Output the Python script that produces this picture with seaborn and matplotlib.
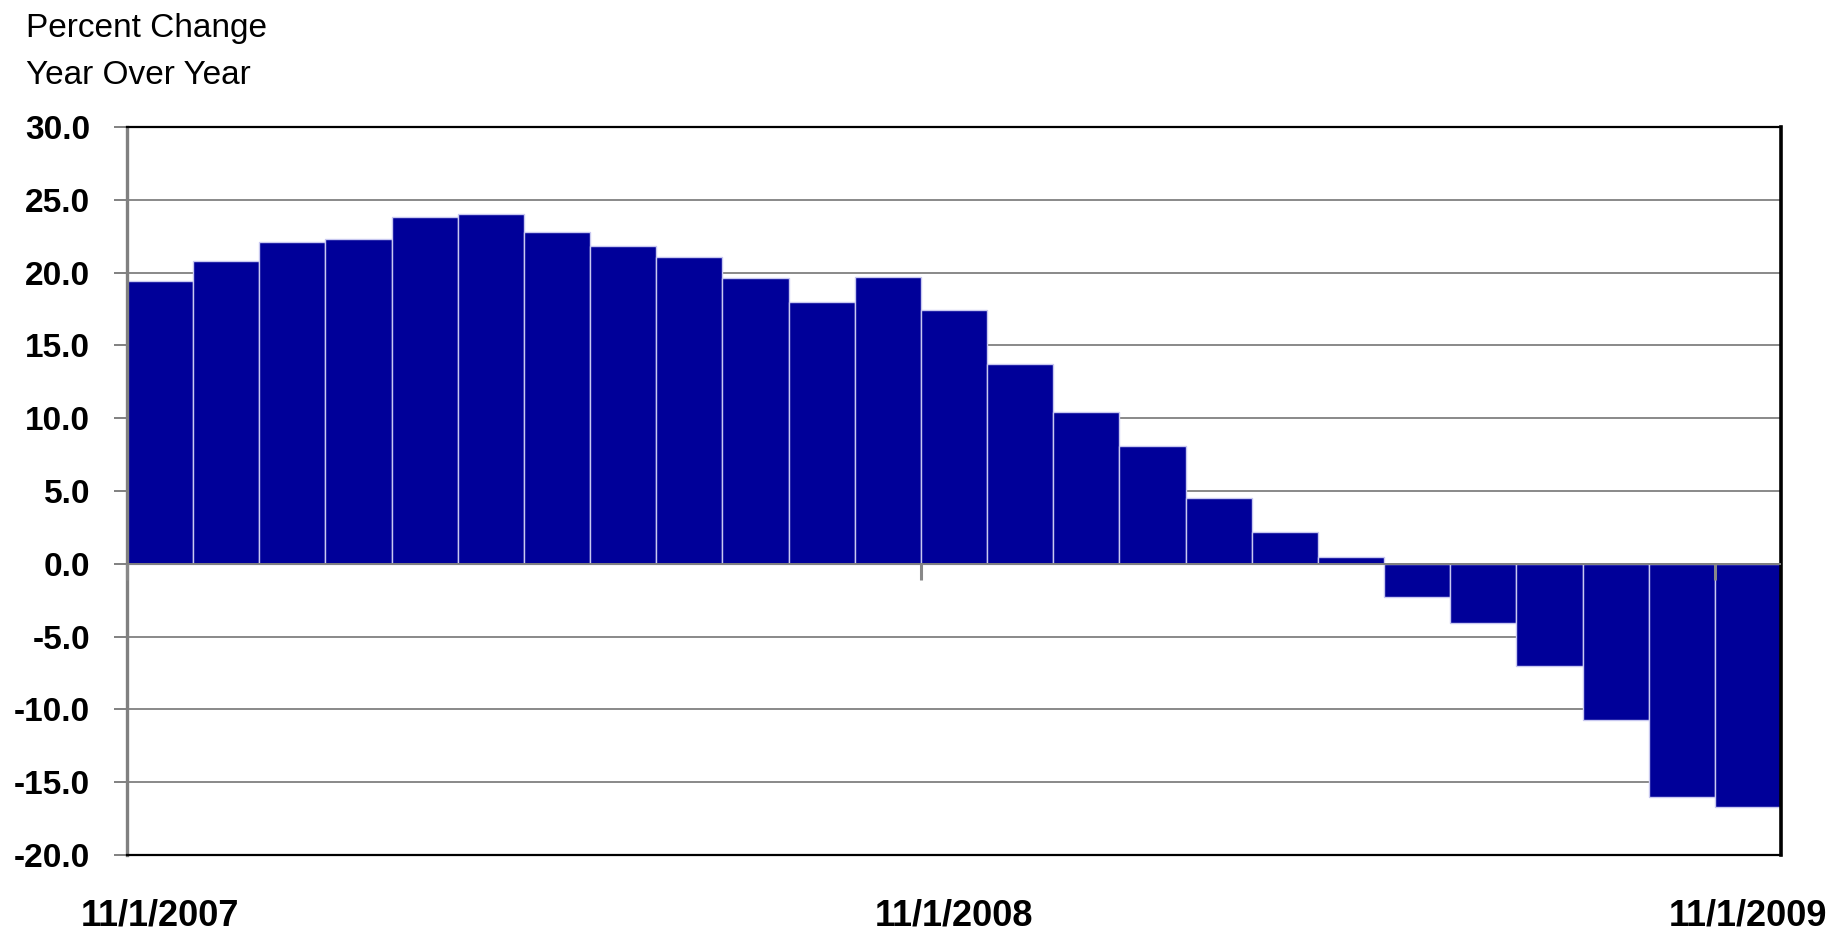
import matplotlib
matplotlib.use("Agg")
import matplotlib.pyplot as plt
import seaborn as sns
import pandas as pd

# Monthly year-over-year percent change, Nov 2007 - Nov 2009
months = [d.strftime("%-m/1/%Y") for d in pd.date_range("2007-11-01", periods=25, freq="MS")]
pct_change = [19.4, 20.8, 22.1, 22.3, 23.8, 24.0, 22.8, 21.8, 21.1, 19.6,
              18.0, 19.7, 17.4, 13.7, 10.4, 8.1, 4.5, 2.2, 0.5, -2.3,
              -4.1, -7.0, -10.7, -16.0, -16.7]
shown_labels = ["11/1/2007", "11/1/2008", "11/1/2009"]
y_ticks = [30, 25, 20, 15, 10, 5, 0, -5, -10, -15, -20]

df = pd.DataFrame({"month": months, "change": pct_change})

sns.set_theme(style="white")
plt.rcParams["font.family"] = ["Liberation Sans", "DejaVu Sans"]

fig = plt.figure(figsize=(18.31, 9.36), dpi=100)
ax = fig.add_axes([127 / 1831, 1 - 855 / 936, (1781 - 127) / 1831, (855 - 127) / 936])

ax.set_axisbelow(True)
ax.yaxis.grid(True, color="#808080", linewidth=1.3)
ax.xaxis.grid(False)

sns.barplot(data=df, x="month", y="change", order=months, color="#000099",
            saturation=1, width=1.0, edgecolor="#c8c8f0", linewidth=1.0, ax=ax)

# Zero reference line drawn over the bars
ax.axhline(0, color="#808080", linewidth=1.4, zorder=3)

ymin, ymax = -20, 30
ax.set_ylim(ymin, ymax)
ax.set_xlim(-0.5, len(months) - 0.5)
ax.set_yticks(y_ticks)
ax.set_yticklabels([f"{v:.1f}" for v in y_ticks], fontsize=24, fontweight="bold",
                   color="black")
ax.tick_params(axis="y", which="major", left=True, direction="out", length=9.5,
               width=1.4, color="#808080", pad=17)

idx = [months.index(m) for m in shown_labels]
ax.set_xticks(idx)
ax.set_xticklabels(shown_labels, fontsize=26, fontweight="bold", color="black")
ax.tick_params(axis="x", which="major", bottom=True, length=0, pad=31)
ax.set_xlabel("")
ax.set_ylabel("")

for side in ("top", "bottom"):
    ax.spines[side].set_color("black")
    ax.spines[side].set_linewidth(1.6)
ax.spines["right"].set_color("black")
ax.spines["right"].set_linewidth(2.6)
ax.spines["left"].set_color("#808080")
ax.spines["left"].set_linewidth(2.4)

# Year-boundary tick marks hanging off the zero line
zero_frac = (0 - ymin) / (ymax - ymin)
sec = ax.secondary_xaxis(zero_frac)
sec.set_zorder(5)
sec.set_xticks([i - 0.5 for i in idx])
sec.set_xticklabels([""] * len(idx))
sec.tick_params(axis="x", direction="out", length=11.5, width=2.2, color="#888888")
for s in sec.spines.values():
    s.set_visible(False)

fig.text(26 / 1831, 1 - 13 / 936, "Percent Change\nYear Over Year", fontsize=24,
         ha="left", va="top", linespacing=1.65, color="black")

fig.savefig("out.png", dpi=100, facecolor="white")
